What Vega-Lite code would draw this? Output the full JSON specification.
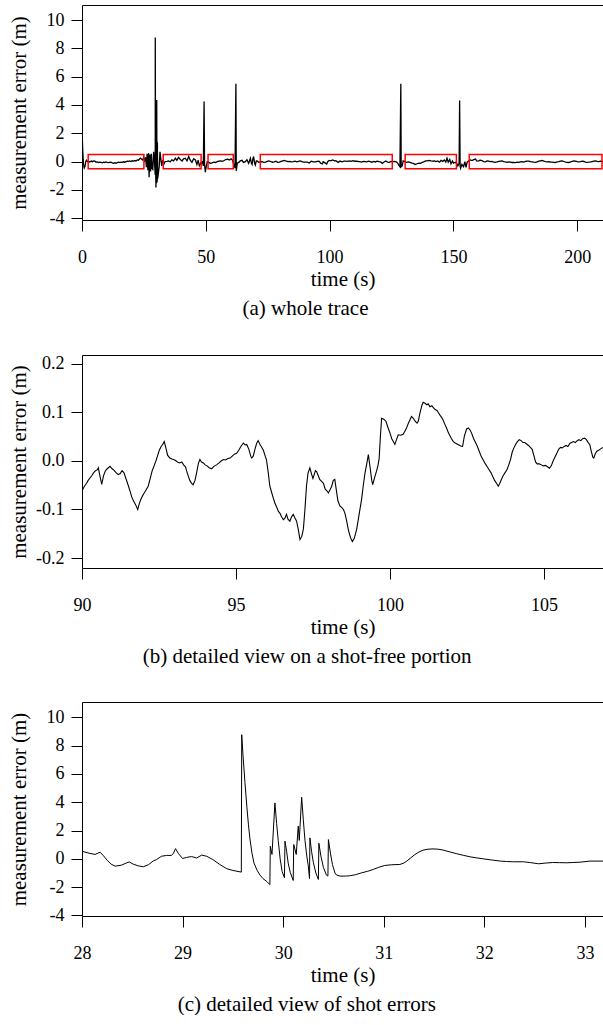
{
"$schema": "https://vega.github.io/schema/vega-lite/v6.json",
"padding": {"left": 8, "top": 5, "right": 0, "bottom": 0},
"background": "white",
"config": {
  "font": "Liberation Serif, DejaVu Serif, serif",
  "view": {"stroke": null},
  "concat": {"spacing": 35},
  "axis": {"domainColor": "#000", "tickColor": "#000", "labelColor": "#000", "titleColor": "#000", "labelFont": "Liberation Serif, DejaVu Serif, serif", "titleFont": "Liberation Serif, DejaVu Serif, serif", "labelFontSize": 18, "titleFontSize": 21, "titleFontWeight": "normal", "tickSize": 11, "grid": false, "domainWidth": 1, "tickWidth": 1, "labelFlush": false, "labelOverlap": false, "labelExpr": "replace(datum.label, '\u2212', '-')"},
  "axisX": {"labelPadding": 17, "titlePadding": 2},
  "axisY": {"labelPadding": 7},
  "title": {"orient": "bottom", "anchor": "middle", "frame": "bounds", "font": "Liberation Serif, DejaVu Serif, serif", "fontSize": 21, "fontWeight": "normal", "offset": 9, "color": "#000"}
},
"datasets": {
"r": [{"t":2.5,"t2":25.0,"v":-0.5,"v2":0.5},{"t":32.8,"t2":48.1,"v":-0.5,"v2":0.5},{"t":50.9,"t2":61.1,"v":-0.5,"v2":0.5},{"t":72.0,"t2":125.3,"v":-0.5,"v2":0.5},{"t":130.5,"t2":151.2,"v":-0.5,"v2":0.5},{"t":156.4,"t2":210.0,"v":-0.5,"v2":0.5}],
"a": [{"t":0.0,"v":2.2},{"t":0.3,"v":0.8},{"t":0.6,"v":-0.2},{"t":0.9,"v":-0.45},{"t":1.2,"v":-0.35},{"t":1.5,"v":0.0},{"t":1.8,"v":0.1},{"t":2.2,"v":0.0},{"t":2.7,"v":0.02},{"t":3.2,"v":-0.03},{"t":3.7,"v":0.04},{"t":4.2,"v":0.0},{"t":4.7,"v":0.05},{"t":5.2,"v":0.03},{"t":5.7,"v":-0.04},{"t":6.2,"v":-0.02},{"t":6.7,"v":-0.06},{"t":7.2,"v":-0.03},{"t":7.7,"v":-0.05},{"t":8.2,"v":-0.08},{"t":8.7,"v":-0.04},{"t":9.2,"v":-0.06},{"t":9.7,"v":-0.02},{"t":10.2,"v":-0.05},{"t":10.8,"v":-0.07},{"t":11.3,"v":-0.03},{"t":11.8,"v":-0.05},{"t":12.3,"v":-0.09},{"t":12.8,"v":-0.12},{"t":13.3,"v":-0.08},{"t":13.8,"v":-0.11},{"t":14.3,"v":-0.06},{"t":14.8,"v":-0.04},{"t":15.3,"v":-0.07},{"t":15.8,"v":-0.03},{"t":16.3,"v":-0.05},{"t":16.8,"v":-0.01},{"t":17.3,"v":-0.04},{"t":17.8,"v":0.0},{"t":18.3,"v":0.04},{"t":18.8,"v":0.02},{"t":19.3,"v":0.05},{"t":19.8,"v":0.01},{"t":20.3,"v":0.06},{"t":20.8,"v":0.04},{"t":21.3,"v":0.08},{"t":21.8,"v":0.05},{"t":22.3,"v":0.12},{"t":22.8,"v":0.1},{"t":23.3,"v":0.2},{"t":23.6,"v":0.25},{"t":24.0,"v":0.18},{"t":24.5,"v":0.12},{"t":24.9,"v":0.3},{"t":25.3,"v":0.05},{"t":25.7,"v":0.3},{"t":26.0,"v":-0.4},{"t":26.3,"v":0.55},{"t":26.6,"v":-0.6},{"t":26.9,"v":0.6},{"t":27.1,"v":-1.1},{"t":27.4,"v":0.5},{"t":27.7,"v":-0.7},{"t":28.0,"v":0.55},{"t":28.3,"v":-0.5},{"t":28.6,"v":-0.55},{"t":28.93,"v":0.7},{"t":29.2,"v":0.2},{"t":29.58,"v":-0.94},{"t":29.59,"v":8.77},{"t":29.7,"v":-0.3},{"t":29.87,"v":-1.82},{"t":29.92,"v":3.95},{"t":30.01,"v":-1.34},{"t":30.03,"v":1.25},{"t":30.1,"v":-1.53},{"t":30.18,"v":4.35},{"t":30.26,"v":-1.4},{"t":30.27,"v":1.48},{"t":30.35,"v":-1.46},{"t":30.36,"v":1.1},{"t":30.44,"v":-1.22},{"t":30.45,"v":1.36},{"t":30.55,"v":-1.2},{"t":30.9,"v":-0.75},{"t":31.2,"v":-0.3},{"t":31.5,"v":0.7},{"t":31.9,"v":0.1},{"t":32.2,"v":-0.3},{"t":32.6,"v":0.1},{"t":33.0,"v":-0.2},{"t":33.5,"v":0.0},{"t":34.3,"v":0.02},{"t":35.0,"v":0.05},{"t":35.6,"v":-0.02},{"t":36.3,"v":0.12},{"t":37.0,"v":0.05},{"t":37.7,"v":0.24},{"t":38.3,"v":0.1},{"t":39.0,"v":0.3},{"t":39.7,"v":0.15},{"t":40.4,"v":0.05},{"t":41.0,"v":0.2},{"t":41.7,"v":0.24},{"t":42.4,"v":0.05},{"t":43.1,"v":0.36},{"t":43.7,"v":0.1},{"t":44.4,"v":-0.05},{"t":45.1,"v":0.2},{"t":45.8,"v":0.12},{"t":46.4,"v":-0.2},{"t":46.9,"v":0.1},{"t":47.4,"v":-0.3},{"t":48.1,"v":-0.05},{"t":48.6,"v":0.0},{"t":49.0,"v":-0.3},{"t":49.3,"v":4.25},{"t":49.5,"v":-0.2},{"t":49.8,"v":-0.75},{"t":50.2,"v":-0.3},{"t":50.6,"v":0.0},{"t":51.2,"v":-0.05},{"t":51.8,"v":-0.12},{"t":52.5,"v":-0.08},{"t":53.2,"v":-0.03},{"t":53.9,"v":-0.06},{"t":54.6,"v":0.0},{"t":55.3,"v":0.03},{"t":56.0,"v":0.05},{"t":56.7,"v":0.02},{"t":57.4,"v":0.08},{"t":58.1,"v":0.15},{"t":58.8,"v":0.18},{"t":59.5,"v":0.12},{"t":60.2,"v":0.2},{"t":60.8,"v":0.1},{"t":61.3,"v":-0.2},{"t":61.8,"v":-0.45},{"t":62.15,"v":5.5},{"t":62.3,"v":-0.65},{"t":62.7,"v":-0.1},{"t":63.3,"v":-0.05},{"t":63.9,"v":0.05},{"t":64.6,"v":0.09},{"t":65.2,"v":-0.05},{"t":66.0,"v":0.0},{"t":66.6,"v":0.14},{"t":67.3,"v":-0.12},{"t":68.0,"v":0.24},{"t":68.4,"v":-0.1},{"t":68.7,"v":-0.2},{"t":69.0,"v":0.2},{"t":69.3,"v":0.36},{"t":69.7,"v":-0.1},{"t":70.0,"v":-0.24},{"t":70.4,"v":0.05},{"t":70.7,"v":0.05},{"t":71.4,"v":-0.05},{"t":72.0,"v":-0.02},{"t":72.7,"v":0.0},{"t":73.4,"v":-0.05},{"t":74.1,"v":-0.03},{"t":74.8,"v":0.02},{"t":75.5,"v":0.05},{"t":76.2,"v":0.01},{"t":76.9,"v":-0.04},{"t":77.6,"v":-0.02},{"t":78.3,"v":0.03},{"t":79.0,"v":-0.05},{"t":79.7,"v":-0.03},{"t":80.4,"v":0.02},{"t":81.1,"v":0.06},{"t":81.8,"v":0.09},{"t":82.5,"v":0.03},{"t":83.2,"v":0.0},{"t":83.9,"v":0.02},{"t":84.6,"v":-0.01},{"t":85.3,"v":0.0},{"t":86.0,"v":0.03},{"t":86.7,"v":-0.02},{"t":87.4,"v":0.02},{"t":88.1,"v":0.05},{"t":88.8,"v":0.0},{"t":89.5,"v":-0.04},{"t":90.2,"v":-0.04},{"t":91.0,"v":-0.03},{"t":91.8,"v":-0.1},{"t":92.6,"v":0.03},{"t":93.4,"v":-0.01},{"t":94.2,"v":-0.01},{"t":95.0,"v":0.02},{"t":95.7,"v":0.04},{"t":96.4,"v":-0.11},{"t":97.1,"v":-0.16},{"t":97.4,"v":-0.01},{"t":98.0,"v":-0.07},{"t":98.8,"v":-0.17},{"t":99.3,"v":0.01},{"t":99.8,"v":0.09},{"t":100.5,"v":0.06},{"t":101.2,"v":0.12},{"t":102.0,"v":0.05},{"t":102.5,"v":0.07},{"t":103.5,"v":-0.05},{"t":104.2,"v":0.04},{"t":105.0,"v":-0.01},{"t":105.8,"v":0.03},{"t":106.5,"v":0.03},{"t":107.2,"v":0.02},{"t":108.0,"v":0.05},{"t":108.7,"v":0.02},{"t":109.4,"v":0.07},{"t":110.1,"v":0.03},{"t":110.8,"v":0.04},{"t":111.5,"v":0.01},{"t":112.2,"v":0.0},{"t":112.9,"v":-0.03},{"t":113.6,"v":0.02},{"t":114.3,"v":0.0},{"t":115.0,"v":-0.02},{"t":115.7,"v":0.03},{"t":116.4,"v":0.0},{"t":117.1,"v":-0.04},{"t":117.8,"v":0.02},{"t":118.5,"v":-0.02},{"t":119.2,"v":0.04},{"t":119.9,"v":0.0},{"t":120.6,"v":-0.02},{"t":121.3,"v":-0.12},{"t":122.0,"v":-0.03},{"t":122.7,"v":0.05},{"t":123.4,"v":-0.03},{"t":124.1,"v":-0.05},{"t":124.8,"v":0.02},{"t":125.5,"v":0.0},{"t":126.2,"v":0.02},{"t":126.9,"v":-0.02},{"t":127.5,"v":-0.1},{"t":127.9,"v":-0.24},{"t":128.4,"v":-0.36},{"t":128.75,"v":5.5},{"t":128.9,"v":-0.36},{"t":129.3,"v":-0.3},{"t":129.7,"v":0.05},{"t":130.4,"v":0.0},{"t":131.1,"v":-0.05},{"t":131.8,"v":-0.02},{"t":132.5,"v":-0.05},{"t":133.2,"v":-0.1},{"t":133.9,"v":-0.12},{"t":134.6,"v":-0.2},{"t":135.3,"v":-0.15},{"t":136.0,"v":-0.1},{"t":136.7,"v":-0.12},{"t":137.4,"v":-0.05},{"t":138.0,"v":-0.02},{"t":138.8,"v":0.05},{"t":139.5,"v":0.05},{"t":140.2,"v":0.09},{"t":140.9,"v":0.05},{"t":141.6,"v":0.04},{"t":142.3,"v":0.05},{"t":143.0,"v":0.0},{"t":143.7,"v":0.05},{"t":144.4,"v":-0.04},{"t":145.0,"v":0.09},{"t":145.7,"v":0.02},{"t":146.3,"v":0.12},{"t":146.9,"v":-0.03},{"t":147.4,"v":0.24},{"t":147.9,"v":-0.04},{"t":148.5,"v":0.15},{"t":149.0,"v":-0.15},{"t":149.6,"v":0.05},{"t":150.0,"v":-0.1},{"t":150.8,"v":-0.04},{"t":151.4,"v":-0.15},{"t":151.8,"v":-0.3},{"t":152.3,"v":-0.1},{"t":152.5,"v":4.31},{"t":152.7,"v":-0.3},{"t":152.9,"v":-0.47},{"t":153.4,"v":-0.2},{"t":154.1,"v":-0.36},{"t":154.6,"v":0.0},{"t":155.1,"v":-0.4},{"t":155.5,"v":-0.05},{"t":156.2,"v":0.06},{"t":156.8,"v":0.12},{"t":157.5,"v":0.08},{"t":158.2,"v":0.14},{"t":158.9,"v":0.18},{"t":159.5,"v":0.04},{"t":160.2,"v":0.05},{"t":160.8,"v":0.1},{"t":161.5,"v":0.08},{"t":162.2,"v":0.0},{"t":162.9,"v":-0.02},{"t":163.6,"v":0.05},{"t":164.2,"v":0.04},{"t":164.9,"v":0.0},{"t":165.6,"v":0.02},{"t":166.3,"v":-0.04},{"t":166.9,"v":-0.05},{"t":167.6,"v":-0.02},{"t":168.3,"v":0.02},{"t":169.0,"v":0.04},{"t":169.6,"v":0.05},{"t":170.3,"v":0.0},{"t":171.0,"v":-0.02},{"t":171.6,"v":-0.05},{"t":172.3,"v":-0.02},{"t":173.0,"v":-0.03},{"t":173.7,"v":-0.06},{"t":174.4,"v":-0.05},{"t":175.0,"v":-0.07},{"t":175.7,"v":-0.03},{"t":176.4,"v":-0.05},{"t":177.0,"v":-0.01},{"t":177.7,"v":0.0},{"t":178.4,"v":-0.03},{"t":179.1,"v":0.02},{"t":179.7,"v":0.04},{"t":180.4,"v":0.03},{"t":181.1,"v":0.0},{"t":181.8,"v":-0.02},{"t":182.4,"v":-0.04},{"t":183.1,"v":-0.05},{"t":183.8,"v":-0.01},{"t":184.5,"v":0.03},{"t":185.1,"v":0.06},{"t":185.8,"v":0.08},{"t":186.5,"v":0.03},{"t":187.2,"v":0.0},{"t":187.8,"v":-0.02},{"t":188.5,"v":0.0},{"t":189.2,"v":-0.04},{"t":189.9,"v":-0.03},{"t":190.5,"v":-0.05},{"t":191.2,"v":-0.06},{"t":191.9,"v":-0.02},{"t":192.6,"v":0.0},{"t":193.2,"v":0.03},{"t":193.9,"v":0.05},{"t":194.6,"v":0.01},{"t":195.3,"v":-0.03},{"t":195.9,"v":-0.05},{"t":196.6,"v":-0.06},{"t":197.3,"v":-0.02},{"t":198.0,"v":0.02},{"t":198.6,"v":0.05},{"t":199.3,"v":0.04},{"t":200.0,"v":0.0},{"t":200.6,"v":-0.02},{"t":201.3,"v":0.0},{"t":202.0,"v":0.03},{"t":202.7,"v":0.01},{"t":203.3,"v":-0.03},{"t":204.0,"v":-0.05},{"t":204.7,"v":-0.04},{"t":205.4,"v":-0.02},{"t":206.0,"v":0.01},{"t":206.7,"v":0.04},{"t":207.4,"v":0.05},{"t":208.1,"v":0.02},{"t":208.7,"v":0.0},{"t":209.4,"v":0.03},{"t":210.4,"v":0.01}],
"b": [{"t":90.0,"v":-0.062},{"t":90.05,"v":-0.055},{"t":90.1,"v":-0.05},{"t":90.15,"v":-0.046},{"t":90.2,"v":-0.04},{"t":90.26,"v":-0.035},{"t":90.32,"v":-0.03},{"t":90.38,"v":-0.024},{"t":90.44,"v":-0.02},{"t":90.5,"v":-0.018},{"t":90.53,"v":-0.014},{"t":90.58,"v":-0.03},{"t":90.64,"v":-0.048},{"t":90.7,"v":-0.03},{"t":90.76,"v":-0.02},{"t":90.82,"v":-0.016},{"t":90.91,"v":-0.011},{"t":90.98,"v":-0.016},{"t":91.05,"v":-0.02},{"t":91.12,"v":-0.025},{"t":91.18,"v":-0.028},{"t":91.24,"v":-0.026},{"t":91.3,"v":-0.02},{"t":91.36,"v":-0.024},{"t":91.42,"v":-0.035},{"t":91.5,"v":-0.05},{"t":91.56,"v":-0.062},{"t":91.62,"v":-0.075},{"t":91.68,"v":-0.083},{"t":91.74,"v":-0.09},{"t":91.81,"v":-0.1},{"t":91.86,"v":-0.088},{"t":91.92,"v":-0.078},{"t":91.99,"v":-0.069},{"t":92.06,"v":-0.062},{"t":92.15,"v":-0.052},{"t":92.22,"v":-0.035},{"t":92.28,"v":-0.02},{"t":92.34,"v":-0.01},{"t":92.4,"v":0.0},{"t":92.46,"v":0.012},{"t":92.51,"v":0.022},{"t":92.57,"v":0.03},{"t":92.62,"v":0.034},{"t":92.67,"v":0.04},{"t":92.72,"v":0.028},{"t":92.78,"v":0.012},{"t":92.85,"v":0.006},{"t":92.92,"v":0.004},{"t":92.97,"v":0.003},{"t":93.04,"v":0.001},{"t":93.1,"v":-0.002},{"t":93.17,"v":-0.004},{"t":93.24,"v":-0.002},{"t":93.3,"v":-0.008},{"t":93.36,"v":-0.012},{"t":93.42,"v":-0.025},{"t":93.5,"v":-0.04},{"t":93.56,"v":-0.046},{"t":93.61,"v":-0.049},{"t":93.67,"v":-0.04},{"t":93.72,"v":-0.025},{"t":93.78,"v":-0.005},{"t":93.83,"v":0.003},{"t":93.88,"v":-0.002},{"t":93.94,"v":-0.004},{"t":94.0,"v":-0.008},{"t":94.06,"v":-0.01},{"t":94.13,"v":-0.014},{"t":94.21,"v":-0.016},{"t":94.28,"v":-0.011},{"t":94.37,"v":-0.008},{"t":94.45,"v":-0.004},{"t":94.52,"v":0.0},{"t":94.59,"v":0.003},{"t":94.66,"v":0.002},{"t":94.74,"v":0.005},{"t":94.81,"v":0.006},{"t":94.88,"v":0.01},{"t":94.95,"v":0.014},{"t":95.02,"v":0.016},{"t":95.09,"v":0.022},{"t":95.16,"v":0.03},{"t":95.24,"v":0.037},{"t":95.3,"v":0.033},{"t":95.35,"v":0.034},{"t":95.42,"v":0.024},{"t":95.48,"v":0.01},{"t":95.51,"v":0.006},{"t":95.56,"v":0.01},{"t":95.62,"v":0.025},{"t":95.67,"v":0.036},{"t":95.72,"v":0.042},{"t":95.78,"v":0.034},{"t":95.84,"v":0.028},{"t":95.89,"v":0.022},{"t":95.95,"v":0.01},{"t":95.99,"v":0.003},{"t":96.05,"v":-0.025},{"t":96.1,"v":-0.052},{"t":96.16,"v":-0.065},{"t":96.22,"v":-0.078},{"t":96.26,"v":-0.086},{"t":96.32,"v":-0.095},{"t":96.38,"v":-0.104},{"t":96.43,"v":-0.108},{"t":96.48,"v":-0.115},{"t":96.54,"v":-0.121},{"t":96.59,"v":-0.118},{"t":96.64,"v":-0.11},{"t":96.69,"v":-0.12},{"t":96.75,"v":-0.124},{"t":96.8,"v":-0.116},{"t":96.86,"v":-0.11},{"t":96.92,"v":-0.118},{"t":96.97,"v":-0.124},{"t":97.02,"v":-0.14},{"t":97.08,"v":-0.162},{"t":97.14,"v":-0.155},{"t":97.19,"v":-0.14},{"t":97.24,"v":-0.1},{"t":97.29,"v":-0.052},{"t":97.34,"v":-0.025},{"t":97.4,"v":-0.014},{"t":97.46,"v":-0.028},{"t":97.5,"v":-0.036},{"t":97.53,"v":-0.03},{"t":97.58,"v":-0.02},{"t":97.62,"v":-0.022},{"t":97.67,"v":-0.03},{"t":97.72,"v":-0.038},{"t":97.78,"v":-0.042},{"t":97.84,"v":-0.046},{"t":97.9,"v":-0.058},{"t":97.96,"v":-0.062},{"t":98.0,"v":-0.066},{"t":98.05,"v":-0.06},{"t":98.11,"v":-0.052},{"t":98.16,"v":-0.04},{"t":98.21,"v":-0.038},{"t":98.26,"v":-0.06},{"t":98.31,"v":-0.082},{"t":98.38,"v":-0.093},{"t":98.44,"v":-0.096},{"t":98.49,"v":-0.1},{"t":98.54,"v":-0.108},{"t":98.6,"v":-0.125},{"t":98.65,"v":-0.142},{"t":98.72,"v":-0.158},{"t":98.78,"v":-0.166},{"t":98.84,"v":-0.16},{"t":98.92,"v":-0.141},{"t":99.0,"v":-0.11},{"t":99.08,"v":-0.079},{"t":99.14,"v":-0.048},{"t":99.19,"v":-0.025},{"t":99.25,"v":-0.005},{"t":99.3,"v":0.013},{"t":99.36,"v":-0.015},{"t":99.41,"v":-0.04},{"t":99.44,"v":-0.049},{"t":99.5,"v":-0.035},{"t":99.56,"v":-0.022},{"t":99.61,"v":-0.01},{"t":99.65,"v":0.005},{"t":99.69,"v":0.05},{"t":99.73,"v":0.088},{"t":99.8,"v":0.086},{"t":99.87,"v":0.082},{"t":99.93,"v":0.07},{"t":100.0,"v":0.058},{"t":100.06,"v":0.046},{"t":100.11,"v":0.04},{"t":100.16,"v":0.034},{"t":100.22,"v":0.045},{"t":100.27,"v":0.054},{"t":100.35,"v":0.053},{"t":100.43,"v":0.055},{"t":100.49,"v":0.062},{"t":100.54,"v":0.068},{"t":100.6,"v":0.078},{"t":100.66,"v":0.086},{"t":100.7,"v":0.092},{"t":100.76,"v":0.088},{"t":100.82,"v":0.082},{"t":100.88,"v":0.078},{"t":100.92,"v":0.082},{"t":100.98,"v":0.1},{"t":101.04,"v":0.115},{"t":101.08,"v":0.121},{"t":101.14,"v":0.119},{"t":101.2,"v":0.116},{"t":101.24,"v":0.118},{"t":101.3,"v":0.112},{"t":101.36,"v":0.114},{"t":101.41,"v":0.11},{"t":101.47,"v":0.106},{"t":101.53,"v":0.104},{"t":101.57,"v":0.1},{"t":101.63,"v":0.094},{"t":101.68,"v":0.09},{"t":101.73,"v":0.084},{"t":101.78,"v":0.076},{"t":101.84,"v":0.068},{"t":101.9,"v":0.058},{"t":101.95,"v":0.052},{"t":102.0,"v":0.046},{"t":102.06,"v":0.04},{"t":102.12,"v":0.037},{"t":102.18,"v":0.035},{"t":102.24,"v":0.033},{"t":102.3,"v":0.031},{"t":102.36,"v":0.03},{"t":102.42,"v":0.052},{"t":102.49,"v":0.066},{"t":102.55,"v":0.068},{"t":102.6,"v":0.064},{"t":102.65,"v":0.058},{"t":102.72,"v":0.046},{"t":102.78,"v":0.038},{"t":102.84,"v":0.03},{"t":102.9,"v":0.02},{"t":102.96,"v":0.01},{"t":103.03,"v":0.002},{"t":103.1,"v":-0.006},{"t":103.16,"v":-0.012},{"t":103.22,"v":-0.018},{"t":103.28,"v":-0.024},{"t":103.34,"v":-0.032},{"t":103.4,"v":-0.04},{"t":103.46,"v":-0.046},{"t":103.52,"v":-0.052},{"t":103.57,"v":-0.046},{"t":103.62,"v":-0.038},{"t":103.68,"v":-0.03},{"t":103.74,"v":-0.024},{"t":103.8,"v":-0.018},{"t":103.86,"v":-0.008},{"t":103.92,"v":0.004},{"t":103.97,"v":0.018},{"t":104.02,"v":0.026},{"t":104.08,"v":0.034},{"t":104.14,"v":0.04},{"t":104.2,"v":0.044},{"t":104.26,"v":0.042},{"t":104.32,"v":0.038},{"t":104.38,"v":0.038},{"t":104.44,"v":0.035},{"t":104.5,"v":0.032},{"t":104.56,"v":0.028},{"t":104.62,"v":0.024},{"t":104.68,"v":0.01},{"t":104.73,"v":-0.002},{"t":104.78,"v":-0.006},{"t":104.85,"v":-0.006},{"t":104.92,"v":-0.008},{"t":104.98,"v":-0.01},{"t":105.05,"v":-0.009},{"t":105.12,"v":-0.012},{"t":105.18,"v":-0.015},{"t":105.24,"v":-0.01},{"t":105.3,"v":0.0},{"t":105.36,"v":0.008},{"t":105.42,"v":0.016},{"t":105.48,"v":0.024},{"t":105.54,"v":0.028},{"t":105.6,"v":0.027},{"t":105.66,"v":0.03},{"t":105.72,"v":0.032},{"t":105.78,"v":0.03},{"t":105.84,"v":0.036},{"t":105.9,"v":0.038},{"t":105.96,"v":0.04},{"t":106.02,"v":0.038},{"t":106.08,"v":0.042},{"t":106.14,"v":0.044},{"t":106.2,"v":0.042},{"t":106.26,"v":0.046},{"t":106.32,"v":0.047},{"t":106.38,"v":0.044},{"t":106.44,"v":0.038},{"t":106.49,"v":0.034},{"t":106.54,"v":0.02},{"t":106.59,"v":0.008},{"t":106.62,"v":0.006},{"t":106.67,"v":0.015},{"t":106.72,"v":0.02},{"t":106.78,"v":0.022},{"t":106.84,"v":0.025},{"t":106.92,"v":0.028}],
"c": [{"t":28.0,"v":0.54},{"t":28.04,"v":0.45},{"t":28.08,"v":0.38},{"t":28.13,"v":0.31},{"t":28.18,"v":0.47},{"t":28.21,"v":0.25},{"t":28.25,"v":-0.1},{"t":28.29,"v":-0.38},{"t":28.33,"v":-0.52},{"t":28.39,"v":-0.45},{"t":28.44,"v":-0.3},{"t":28.47,"v":-0.22},{"t":28.51,"v":-0.38},{"t":28.56,"v":-0.5},{"t":28.61,"v":-0.56},{"t":28.66,"v":-0.42},{"t":28.71,"v":-0.14},{"t":28.74,"v":-0.06},{"t":28.79,"v":0.18},{"t":28.84,"v":0.24},{"t":28.89,"v":0.24},{"t":28.91,"v":0.4},{"t":28.93,"v":0.72},{"t":28.96,"v":0.36},{"t":29.0,"v":0.02},{"t":29.04,"v":0.1},{"t":29.09,"v":0.16},{"t":29.14,"v":0.06},{"t":29.19,"v":0.26},{"t":29.24,"v":0.18},{"t":29.3,"v":-0.05},{"t":29.37,"v":-0.4},{"t":29.44,"v":-0.7},{"t":29.5,"v":-0.82},{"t":29.584,"v":-0.94},{"t":29.588,"v":8.77},{"t":29.6,"v":7.4},{"t":29.62,"v":5.4},{"t":29.64,"v":3.6},{"t":29.655,"v":2.4},{"t":29.67,"v":1.4},{"t":29.69,"v":0.4},{"t":29.71,"v":-0.3},{"t":29.74,"v":-0.8},{"t":29.77,"v":-1.15},{"t":29.8,"v":-1.4},{"t":29.84,"v":-1.62},{"t":29.868,"v":-1.82},{"t":29.872,"v":0.89},{"t":29.889,"v":0.31},{"t":29.918,"v":3.95},{"t":29.935,"v":2.5},{"t":29.951,"v":1.3},{"t":29.97,"v":0.0},{"t":29.99,"v":-0.9},{"t":30.013,"v":-1.34},{"t":30.018,"v":1.25},{"t":30.035,"v":0.5},{"t":30.05,"v":-0.3},{"t":30.07,"v":-0.95},{"t":30.1,"v":-1.53},{"t":30.105,"v":1.01},{"t":30.13,"v":0.31},{"t":30.15,"v":2.31},{"t":30.16,"v":1.3},{"t":30.184,"v":4.35},{"t":30.2,"v":2.8},{"t":30.217,"v":1.3},{"t":30.235,"v":0.2},{"t":30.25,"v":-0.5},{"t":30.262,"v":-1.4},{"t":30.266,"v":1.48},{"t":30.283,"v":0.5},{"t":30.3,"v":-0.25},{"t":30.325,"v":-1.0},{"t":30.35,"v":-1.46},{"t":30.355,"v":1.1},{"t":30.375,"v":0.2},{"t":30.4,"v":-0.6},{"t":30.43,"v":-1.15},{"t":30.445,"v":-1.22},{"t":30.45,"v":1.36},{"t":30.47,"v":0.4},{"t":30.49,"v":-0.4},{"t":30.515,"v":-1.0},{"t":30.53,"v":-1.14},{"t":30.565,"v":-1.22},{"t":30.62,"v":-1.22},{"t":30.66,"v":-1.2},{"t":30.72,"v":-1.12},{"t":30.78,"v":-0.99},{"t":30.84,"v":-0.88},{"t":30.896,"v":-0.75},{"t":30.95,"v":-0.6},{"t":31.01,"v":-0.47},{"t":31.08,"v":-0.42},{"t":31.16,"v":-0.4},{"t":31.2,"v":-0.3},{"t":31.23,"v":-0.16},{"t":31.27,"v":0.08},{"t":31.31,"v":0.3},{"t":31.35,"v":0.48},{"t":31.39,"v":0.61},{"t":31.44,"v":0.68},{"t":31.49,"v":0.7},{"t":31.54,"v":0.68},{"t":31.59,"v":0.62},{"t":31.65,"v":0.5},{"t":31.72,"v":0.37},{"t":31.79,"v":0.25},{"t":31.86,"v":0.14},{"t":31.92,"v":0.07},{"t":31.99,"v":0.0},{"t":32.07,"v":-0.08},{"t":32.16,"v":-0.16},{"t":32.22,"v":-0.19},{"t":32.29,"v":-0.21},{"t":32.39,"v":-0.21},{"t":32.46,"v":-0.27},{"t":32.54,"v":-0.35},{"t":32.61,"v":-0.3},{"t":32.68,"v":-0.26},{"t":32.75,"v":-0.27},{"t":32.82,"v":-0.28},{"t":32.88,"v":-0.26},{"t":32.95,"v":-0.24},{"t":33.05,"v":-0.16},{"t":33.18,"v":-0.16}]
},
"vconcat": [
{
  "width": 521, "height": 215,
  "title": {"text": "(a) whole trace"},
  "encoding": {
    "x": {"field": "t", "type": "quantitative", "scale": {"domain": [0, 210.4], "nice": false, "zero": false}, "axis": {"values": [0, 50, 100, 150, 200], "title": "time (s)"}},
    "y": {"field": "v", "type": "quantitative", "scale": {"domain": [-4.12, 11.06], "nice": false, "zero": false}, "axis": {"values": [-4, -2, 0, 2, 4, 6, 8, 10], "title": "measurement error (m)", "titlePadding": 17}}
  },
  "layer": [
    {"data": {"name": "a"}, "mark": {"type": "line", "color": "#000", "strokeWidth": 1.3, "clip": true}, "encoding": {}},
    {"data": {"name": "r"}, "mark": {"type": "rect", "fillOpacity": 0, "stroke": "#ff0000", "strokeWidth": 1.5, "clip": true},
     "encoding": {
       "x": {"field": "t", "type": "quantitative", "scale": {"domain": [0, 210.4], "nice": false, "zero": false}, "axis": {"orient": "top", "labels": false, "ticks": false, "title": null, "domain": true}},
       "x2": {"field": "t2"},
       "y2": {"field": "v2"}
     }}
  ],
  "resolve": {"axis": {"x": "independent"}}
},
{
  "width": 521, "height": 213,
  "title": {"text": "(b) detailed view on a shot-free portion"},
  "data": {"name": "b"},
  "encoding": {
    "x": {"field": "t", "type": "quantitative", "scale": {"domain": [90, 106.92], "nice": false, "zero": false}, "axis": {"values": [90, 95, 100, 105], "title": "time (s)"}},
    "y": {"field": "v", "type": "quantitative", "scale": {"domain": [-0.2206, 0.2185], "nice": false, "zero": false}, "axis": {"values": [-0.2, -0.1, 0, 0.1, 0.2], "format": ".1f", "title": "measurement error (m)", "titlePadding": 6}}
  },
  "layer": [
    {"mark": {"type": "line", "color": "#000", "strokeWidth": 1.1, "clip": true}, "encoding": {}},
    {"mark": {"type": "point", "opacity": 0},
     "encoding": {
       "x": {"field": "t", "type": "quantitative", "scale": {"domain": [90, 106.92], "nice": false, "zero": false}, "axis": {"orient": "top", "labels": false, "ticks": false, "title": null, "domain": true}}
     }}
  ],
  "resolve": {"axis": {"x": "independent"}}
},
{
  "width": 521, "height": 214,
  "title": {"text": "(c) detailed view of shot errors"},
  "data": {"name": "c"},
  "encoding": {
    "x": {"field": "t", "type": "quantitative", "scale": {"domain": [28, 33.18], "nice": false, "zero": false}, "axis": {"values": [28, 29, 30, 31, 32, 33], "title": "time (s)"}},
    "y": {"field": "v", "type": "quantitative", "scale": {"domain": [-4.04, 11.08], "nice": false, "zero": false}, "axis": {"values": [-4, -2, 0, 2, 4, 6, 8, 10], "title": "measurement error (m)", "titlePadding": 17}}
  },
  "layer": [
    {"mark": {"type": "line", "color": "#000", "strokeWidth": 1, "clip": true}, "encoding": {}},
    {"mark": {"type": "point", "opacity": 0},
     "encoding": {
       "x": {"field": "t", "type": "quantitative", "scale": {"domain": [28, 33.18], "nice": false, "zero": false}, "axis": {"orient": "top", "labels": false, "ticks": false, "title": null, "domain": true}}
     }}
  ],
  "resolve": {"axis": {"x": "independent"}}
}
]
}
